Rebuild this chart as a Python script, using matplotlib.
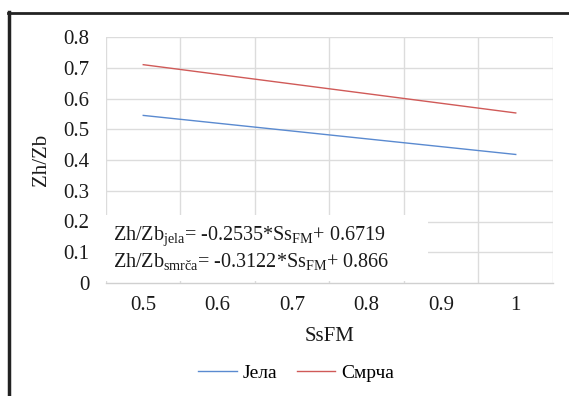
import matplotlib
matplotlib.use("Agg")
import matplotlib.pyplot as plt
from matplotlib.patches import Rectangle
from matplotlib.lines import Line2D

plt.rcParams['font.family'] = ['Liberation Serif', 'DejaVu Serif']
plt.rcParams['mathtext.fontset'] = 'custom'
plt.rcParams['mathtext.rm'] = 'Liberation Serif'
plt.rcParams['mathtext.it'] = 'Liberation Serif:italic'

# data
ss_fm = [0.5, 1.0]
jela = [0.545, 0.418]
smrca = [0.710, 0.553]
series_labels = ["Јела", "Смрча"]
x_ticks = [0.5, 0.6, 0.7, 0.8, 0.9, 1.0]
x_tick_labels = ["0.5", "0.6", "0.7", "0.8", "0.9", "1"]
y_ticks = [0, 0.1, 0.2, 0.3, 0.4, 0.5, 0.6, 0.7, 0.8]
y_tick_labels = ["0", "0.1", "0.2", "0.3", "0.4", "0.5", "0.6", "0.7", "0.8"]
eq1 = r"Zh/Zb$_{\mathrm{jela}}$= -0.2535*Ss$_{\mathrm{FM}}$+ 0.6719"
eq2 = r"Zh/Zb$_{\mathrm{smrča}}$= -0.3122*Ss$_{\mathrm{FM}}$+ 0.866"

W, H = 569, 396
fig = plt.figure(figsize=(W / 100, H / 100), dpi=100)
ax = fig.add_axes([106 / W, 1 - 283 / H, (553 - 106) / W, (283 - 37) / H])

blue = '#5a8ad0'
red = '#d05a58'
ax.plot(ss_fm, jela, color=blue, lw=1.0, zorder=3)
ax.plot(ss_fm, smrca, color=red, lw=1.0, zorder=3)

ax.set_xlim(0.45, 1.05)
ax.set_ylim(0, 0.8)
ax.set_xticks(x_ticks)
ax.set_xticklabels(x_tick_labels)
ax.set_yticks(y_ticks)
ax.set_yticklabels(y_tick_labels)
ax.tick_params(axis='both', length=0, labelsize=15, colors='#1a1a1a')
ax.tick_params(axis='x', pad=9)
ax.tick_params(axis='y', pad=12)

# gridlines (category-boundary verticals)
grid_c = '#dcdcdc'
for v in [0.45, 0.55, 0.65, 0.75, 0.85, 0.95, 1.05]:
    ax.axvline(v, color=grid_c, lw=1.0, zorder=1)
for h in y_ticks[1:]:
    ax.axhline(h, color=grid_c, lw=1.0, zorder=1)
for s in ['top', 'right', 'left']:
    ax.spines[s].set_visible(False)
ax.spines['bottom'].set_color('#d0d0d0')
ax.spines['bottom'].set_linewidth(1.0)

# equation box
ax.add_patch(Rectangle((0.446, 0.007), 0.882 - 0.446, 0.221 - 0.007,
                       facecolor='white', edgecolor='none', zorder=2,
                       clip_on=False))
ax.text(113 / W, 1 - 236 / H, eq1, transform=fig.transFigure, fontsize=14.5,
        va='center', ha='left', color='#1a1a1a', zorder=4)
ax.text(113 / W, 1 - 261 / H, eq2, transform=fig.transFigure, fontsize=14.5,
        va='center', ha='left', color='#1a1a1a', zorder=4)

ax.set_xlabel("SsFM", fontsize=15, color='#1a1a1a')
ax.xaxis.set_label_coords(0.5, -(327 - 283) / (283 - 37))
ax.set_ylabel("Zh/Zb", fontsize=15, color='#1a1a1a')
ax.yaxis.set_label_coords(-(106 - 51) / (553 - 106), 0.5)

handles = [Line2D([], [], color=blue, lw=1.0), Line2D([], [], color=red, lw=1.0)]
fig.legend(handles, series_labels, loc='center', bbox_to_anchor=(296 / W, 1 - 373 / H),
           ncol=2, frameon=False, fontsize=14, handlelength=2.0, handletextpad=0.3,
           columnspacing=1.0)

# outer frame (left and top edges)
fig.add_artist(Line2D([9 / W, 9 / W], [0, 1 - 12 / H], transform=fig.transFigure,
                      color='#222222', lw=2.5))
fig.add_artist(Line2D([8 / W, 1], [1 - 13 / H, 1 - 13 / H], transform=fig.transFigure,
                      color='#222222', lw=2.0))

fig.savefig("out.png", dpi=100)
